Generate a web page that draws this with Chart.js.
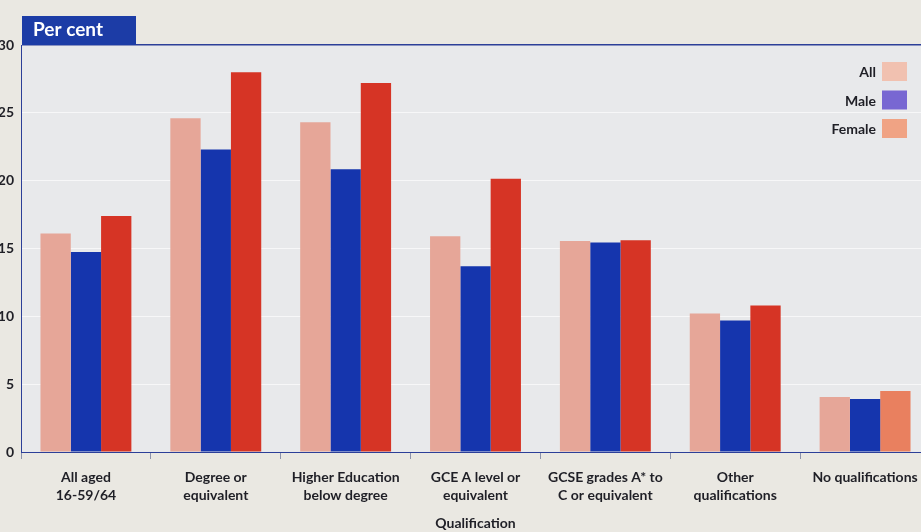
<!DOCTYPE html>
<html>
<head>
<meta charset="utf-8">
<title>Per cent by qualification</title>
<script src="https://cdn.jsdelivr.net/npm/chart.js@4/dist/chart.umd.min.js"></script>
<style>
  html, body { margin: 0; padding: 0; background: #eae8e2; overflow: hidden; }
  #wrap { width: 930px; height: 532px; }
</style>
</head>
<body>
<div id="wrap"><canvas id="chart" width="930" height="532"></canvas></div>
<script>
// Categories on the x axis (multi-line labels as arrays)
const categories = [
  ["All aged", "16-59/64"],
  ["Degree or", "equivalent"],
  ["Higher Education", "below degree"],
  ["GCE A level or", "equivalent"],
  ["GCSE grades A* to", "C or equivalent"],
  ["Other", "qualifications"],
  "No qualifications"
];

// Series values (per cent)
const allValues    = [16.1, 24.6, 24.3, 15.9, 15.55, 10.2, 4.05];
const maleValues   = [14.75, 22.3, 20.85, 13.7, 15.45, 9.7, 3.9];
const femaleValues = [17.4, 28.0, 27.2, 20.15, 15.6, 10.8, 4.5];

// Series names and y-axis tick values
const seriesNames = ["All", "Male", "Female"];
const yTicks = [0, 5, 10, 15, 20, 25, 30];

const FONT = "Lato, 'Open Sans', sans-serif";
const TEXT = "#1f1f26";
const AXIS_BLUE = "#2c3f98";

// Swatch colours for the legend key
const legendSwatches = ["#f1c1b0", "#7867d2", "#f0a384"];

// Plot background + "Per cent" tab + legend key
const decorPlugin = {
  id: "decor",
  beforeDraw(chart) {
    const { ctx, chartArea: a } = chart;
    ctx.save();
    ctx.fillStyle = "#e8e9eb";
    ctx.fillRect(a.left, a.top, a.right - a.left, a.bottom - a.top);
    ctx.restore();
  },
  afterDraw(chart) {
    const { ctx, chartArea: a } = chart;
    ctx.save();
    // tab box above the plot
    ctx.fillStyle = "#1c3ca6";
    ctx.fillRect(a.left + 1, a.top - 29, 114, 29);
    ctx.fillStyle = "#ffffff";
    ctx.font = "bold 19px " + FONT;
    ctx.textBaseline = "middle";
    ctx.textAlign = "left";
    ctx.fillText("Per cent", a.left + 12, a.top - 15);

    // legend key: right-aligned names with swatch to the right
    ctx.font = "bold 14px " + FONT;
    ctx.textAlign = "right";
    const boxRight = 907, boxW = 25, boxH = 19;
    chart.data.datasets.forEach((ds, i) => {
      const top = a.top + 17 + i * 28.5;
      ctx.fillStyle = legendSwatches[i];
      ctx.fillRect(boxRight - boxW, top, boxW, boxH);
      ctx.fillStyle = TEXT;
      ctx.fillText(ds.label, boxRight - boxW - 6, top + boxH / 2 + 1);
    });
    ctx.restore();
  }
};

const femaleColours = femaleValues.map((v, i) => i === femaleValues.length - 1 ? "#e9805f" : "#d63425");

new Chart(document.getElementById("chart"), {
  type: "bar",
  data: {
    labels: categories,
    datasets: [
      { label: seriesNames[0], data: allValues,    backgroundColor: "#e6a698" },
      { label: seriesNames[1], data: maleValues,   backgroundColor: "#1535ad" },
      { label: seriesNames[2], data: femaleValues, backgroundColor: femaleColours }
    ]
  },
  plugins: [decorPlugin],
  options: {
    responsive: false,
    animation: false,
    layout: { padding: { top: 45, right: 0, left: 0, bottom: 0 } },
    datasets: { bar: { categoryPercentage: 0.70, barPercentage: 1.0 } },
    plugins: {
      legend: { display: false },
      tooltip: { enabled: false }
    },
    scales: {
      x: {
        afterFit(scale) { scale.height = 80; },
        grid: {
          offset: true,
          drawOnChartArea: false,
          drawTicks: true,
          tickLength: 7,
          color: "#8d93ab"
        },
        border: { display: true, color: AXIS_BLUE, width: 1 },
        ticks: {
          color: TEXT,
          font: { family: FONT, size: 14, weight: "bold", lineHeight: 1.25 },
          padding: 10,
          maxRotation: 0,
          autoSkip: false
        },
        title: {
          display: true,
          text: "Qualification",
          color: TEXT,
          font: { family: FONT, size: 14, weight: "bold" },
          padding: { top: 0, bottom: 0 }
        }
      },
      y: {
        min: 0,
        max: 30,
        afterFit(scale) { scale.width = 21; },
        afterBuildTicks(scale) { scale.ticks = yTicks.map(v => ({ value: v })); },
        grid: {
          drawTicks: false,
          color: (c) => c.tick && c.tick.value === 30 ? AXIS_BLUE : "rgba(255,255,255,0.65)",
          lineWidth: (c) => c.tick && c.tick.value === 30 ? 1.5 : 1
        },
        border: { display: true, color: AXIS_BLUE, width: 1 },
        ticks: {
          color: TEXT,
          font: { family: FONT, size: 14, weight: "bold" },
          padding: 7
        }
      }
    }
  }
});
</script>
</body>
</html>
